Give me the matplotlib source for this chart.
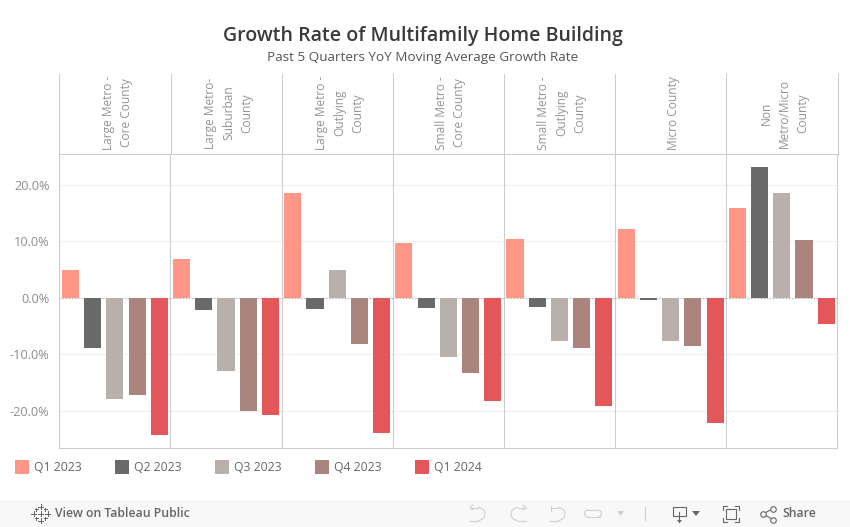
import numpy as np
import matplotlib
matplotlib.use("Agg")
import matplotlib.pyplot as plt
from matplotlib.patches import Rectangle, Arc

plt.rcParams["font.family"] = ["Open Sans", "DejaVu Sans"]

W, H = 850, 527

panes = ["Large Metro -\nCore County", "Large Metro-\nSuburban\nCounty", "Large Metro -\nOutlying\nCounty",
         "Small Metro -\nCore County", "Small Metro -\nOutlying\nCounty", "Micro County", "Non\nMetro/Micro\nCounty"]
quarters = ["Q1 2023", "Q2 2023", "Q3 2023", "Q4 2023", "Q1 2024"]
colors = ["#FF9686", "#6A6A6A", "#B9B0AC", "#A9857D", "#E3565A"]

q1_2023 = [5.0, 6.9, 18.6, 9.7, 10.5, 12.2, 16.0]
q2_2023 = [-8.8, -2.1, -2.0, -1.8, -1.6, -0.3, 23.2]
q3_2023 = [-17.9, -12.9, 5.0, -10.4, -7.7, -7.6, 18.6]
q4_2023 = [-17.2, -20.0, -8.2, -13.3, -8.8, -8.6, 10.2]
q1_2024 = [-24.3, -20.7, -23.9, -18.3, -19.1, -22.1, -4.7]
series = [q1_2023, q2_2023, q3_2023, q4_2023, q1_2024]

yticks = [-20, -10, 0, 10, 20]
ylabels = ["-20.0%", "-10.0%", "0.0%", "10.0%", "20.0%"]

LINE = "#CCCCCC"
TICK = "#8E8E8E"

fig = plt.figure(figsize=(W / 100, H / 100), dpi=100)

# pixel overlay for the chrome around the plot
bg = fig.add_axes([0, 0, 1, 1], zorder=3)
bg.set_xlim(0, W)
bg.set_ylim(H, 0)
bg.axis("off")
bg.patch.set_alpha(0)

left, pane_w = 59.3, 111.15
top, bottom = 154.0, 448.0

for i, name in enumerate(panes):
    x0 = left + i * pane_w
    ax = fig.add_axes([x0 / W, 1 - bottom / H, pane_w / W, (bottom - top) / H], zorder=1)
    vals = [s[i] for s in series]
    ax.bar(range(5), vals, width=0.77, color=colors, zorder=3)
    ax.set_xlim(-0.5, 4.5)
    ax.set_ylim(-26.6, 25.5)
    ax.set_xticks([])
    ax.set_yticks(yticks)
    ax.grid(axis="y", color="#F0F0F0", linewidth=0.75, zorder=0)
    ax.axhline(0, color="#AAAAAA", linewidth=0.75, linestyle=(0, (1, 2)), zorder=2)
    ax.tick_params(axis="y", length=0, pad=7)
    if i == 0:
        ax.set_yticklabels(ylabels, fontsize=9.2, color=TICK)
    else:
        ax.set_yticklabels([])
    for side in ("top", "bottom", "left", "right"):
        ax.spines[side].set_color(LINE)
        ax.spines[side].set_linewidth(0.75)
    bg.text(x0 + pane_w / 2 + 2.5, 113, name, rotation=90, ha="center", va="center", multialignment="center",
            fontsize=8.6, color="#949494", linespacing=1.52)
    bg.plot([x0 + 0.2, x0 + 0.2], [74, top], color=LINE, linewidth=0.75)
x_end = left + 7 * pane_w + 0.2
bg.plot([x_end, x_end], [74, top], color=LINE, linewidth=0.75)

bg.text(423, 36, "Growth Rate of Multifamily Home Building", ha="center", va="center",
        fontsize=14, fontweight="semibold", color="#3A3A3A")
bg.text(423, 58, "Past 5 Quarters YoY Moving Average Growth Rate", ha="center", va="center",
        fontsize=9.7, color="#555555")

# legend
for i, (q, c) in enumerate(zip(quarters, colors)):
    x = 15 + i * 100
    bg.add_patch(Rectangle((x, 460), 14, 14, color=c, linewidth=0))
    bg.text(x + 19, 467.5, q, va="center", fontsize=8.8, color="#666666")

# toolbar
bg.add_patch(Rectangle((0, 500), W, 27, color="#F8F8F8", linewidth=0))
bg.text(55, 513.5, "View on Tableau Public", va="center", fontsize=8.8, fontweight="semibold", color="#666666")
bg.text(782, 513.5, "Share", va="center", fontsize=8.8, fontweight="semibold", color="#666666")

for dx, dy in [(0, -7), (0, 7), (-7, 0), (7, 0), (-4.5, -4.5), (4.5, -4.5), (-4.5, 4.5), (4.5, 4.5), (0, 0)]:
    s = 2.5 if dx == 0 or dy == 0 else 1.5
    bg.plot([41 + dx - s, 41 + dx + s], [513.5 + dy, 513.5 + dy], color="#666666", linewidth=0.7)
    bg.plot([41 + dx, 41 + dx], [513.5 + dy - s, 513.5 + dy + s], color="#666666", linewidth=0.7)

ICON = "#D0D0D0"
# undo, redo, revert, refresh
bg.add_patch(Arc((478, 514), 14, 13, theta1=-90, theta2=90, color=ICON, linewidth=0.8))
bg.plot([470, 478], [507.5, 507.5], color=ICON, linewidth=0.8)
bg.plot([470, 478], [520.5, 520.5], color=ICON, linewidth=0.8)
bg.plot([473, 470, 473], [505, 507.5, 510], color=ICON, linewidth=0.8)
bg.add_patch(Arc((518, 514), 14, 13, theta1=90, theta2=270, color=ICON, linewidth=0.8))
bg.plot([518, 526], [507.5, 507.5], color=ICON, linewidth=0.8)
bg.plot([518, 526], [520.5, 520.5], color=ICON, linewidth=0.8)
bg.plot([523, 526, 523], [505, 507.5, 510], color=ICON, linewidth=0.8)
bg.add_patch(Arc((558, 514), 14, 13, theta1=-90, theta2=90, color=ICON, linewidth=0.8))
bg.plot([552, 558], [507.5, 507.5], color=ICON, linewidth=0.8)
bg.plot([550, 558], [520.5, 520.5], color=ICON, linewidth=0.8)
bg.plot([551, 551], [506, 511], color=ICON, linewidth=0.8)
bg.plot([587, 597], [510, 510], color=ICON, linewidth=0.8)
bg.plot([587, 600], [517, 517], color=ICON, linewidth=0.8)
bg.add_patch(Arc((588, 513.5), 7, 7, theta1=90, theta2=270, color=ICON, linewidth=0.8))
bg.add_patch(Arc((598, 513.5), 7, 7, theta1=-90, theta2=90, color=ICON, linewidth=0.8))
bg.fill([617, 624, 620.5], [511, 511, 516], color=ICON, linewidth=0)
bg.plot([645, 645], [507, 520], color=ICON, linewidth=0.8)

# download
bg.plot([679, 673, 673, 686, 686, 680], [516, 516, 507, 507, 516, 516], color="#666666", linewidth=0.8)
bg.plot([679.5, 679.5], [512, 522], color="#666666", linewidth=0.8)
bg.fill([677, 682, 679.5], [520, 520, 523], color="#666666", linewidth=0)
bg.fill([692, 700, 696], [511, 511, 516], color="#666666", linewidth=0)

# fullscreen
bg.add_patch(Rectangle((726, 509), 10, 10, fill=False, edgecolor="#666666", linewidth=0.8))
for x, y, sx, sy in [(723, 506, 1, 1), (739, 506, -1, 1), (723, 522, 1, -1), (739, 522, -1, -1)]:
    bg.plot([x + 4 * sx, x, x], [y, y, y + 4 * sy], color="#666666", linewidth=0.8)

# share
pts = [(763, 514), (773, 508.5), (773, 519.5)]
for x, y in pts[1:]:
    bg.plot([pts[0][0], x], [pts[0][1], y], color="#666666", linewidth=0.8)
for x, y in pts:
    bg.plot(x, y, "o", markersize=4, markerfacecolor="#F8F8F8", markeredgecolor="#666666", markeredgewidth=0.8)

fig.savefig("out.png", dpi=100)
